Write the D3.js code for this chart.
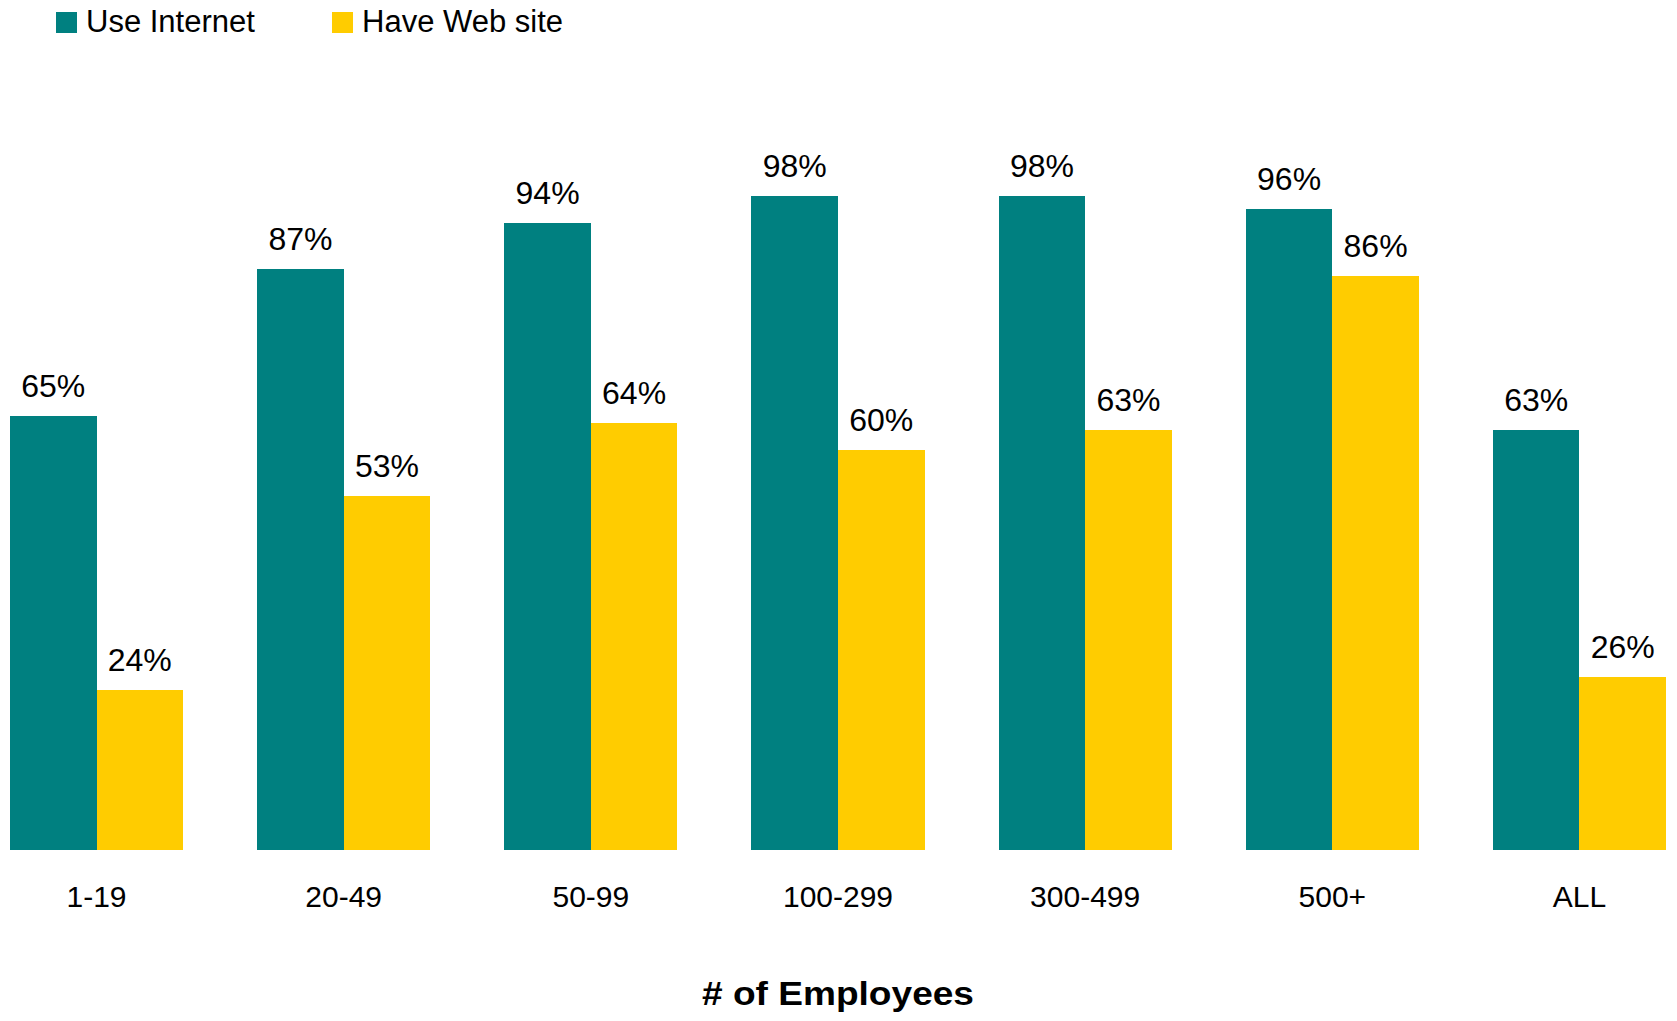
<!DOCTYPE html>
<html>
<head>
<meta charset="utf-8">
<script src="https://cdn.jsdelivr.net/npm/d3@7/dist/d3.min.js"></script>
<style>
  html, body { margin: 0; padding: 0; background: #fff; }
  svg { display: block; font-family: "Liberation Sans", Arial, sans-serif; }
</style>
</head>
<body>
<svg id="chart" width="1677" height="1021"></svg>
<script>
// Share of firms by size band
const categories = ["1-19", "20-49", "50-99", "100-299", "300-499", "500+", "ALL"];
const seriesNames = ["Use Internet", "Have Web site"];
const useInternet = [65, 87, 94, 98, 98, 96, 63];
const haveWebSite = [24, 53, 64, 60, 63, 86, 26];
const seriesColors = ["#008080", "#FFCC00"];
const axisTitle = "# of Employees";

const series = [useInternet, haveWebSite];

const svg = d3.select("#chart");

const x0 = d3.scaleBand()
  .domain(categories)
  .range([10, 1666])
  .paddingInner(0.3)
  .paddingOuter(0);

const x1 = d3.scaleBand()
  .domain(d3.range(series.length))
  .range([0, x0.bandwidth()])
  .padding(0);

const y = d3.scaleLinear()
  .domain([0, 100])
  .range([850, 182.7]);

// Bars and value labels
const groups = svg.append("g")
  .selectAll("g")
  .data(categories)
  .join("g")
  .attr("transform", d => `translate(${x0(d)},0)`);

groups.selectAll("rect")
  .data((d, i) => series.map((s, k) => ({ k, v: s[i] })))
  .join("rect")
  .attr("x", d => x1(d.k))
  .attr("y", d => y(d.v))
  .attr("width", x1.bandwidth())
  .attr("height", d => y(0) - y(d.v))
  .attr("fill", d => seriesColors[d.k])
  .attr("shape-rendering", "crispEdges");

groups.selectAll("text")
  .data((d, i) => series.map((s, k) => ({ k, v: s[i] })))
  .join("text")
  .attr("x", d => x1(d.k) + x1.bandwidth() / 2)
  .attr("y", d => y(d.v) - 19)
  .attr("text-anchor", "middle")
  .attr("font-size", 32)
  .attr("fill", "#000")
  .text(d => d.v + "%");

// Category axis (labels only, no line or ticks)
const xAxis = d3.axisBottom(x0).tickSize(0).tickPadding(0);
const axisG = svg.append("g")
  .attr("transform", "translate(0,907)")
  .call(xAxis);
axisG.select(".domain").remove();
axisG.selectAll("text")
  .attr("font-size", 30)
  .attr("font-family", "'Liberation Sans', Arial, sans-serif")
  .attr("fill", "#000")
  .attr("dy", 0);

// Axis title
svg.append("text")
  .attr("x", 838)
  .attr("y", 1005)
  .attr("text-anchor", "middle")
  .attr("font-size", 33)
  .attr("font-weight", "bold")
  .attr("textLength", 272)
  .attr("lengthAdjust", "spacingAndGlyphs")
  .text(axisTitle);

// Legend
const legendX = [56, 332];
const legend = svg.append("g")
  .selectAll("g")
  .data(seriesNames)
  .join("g")
  .attr("transform", (d, i) => `translate(${legendX[i]},12)`);

legend.append("rect")
  .attr("width", 21)
  .attr("height", 21)
  .attr("fill", (d, i) => seriesColors[i]);

legend.append("text")
  .attr("x", 30)
  .attr("y", 20)
  .attr("font-size", 31)
  .attr("fill", "#000")
  .text(d => d);
</script>
</body>
</html>
